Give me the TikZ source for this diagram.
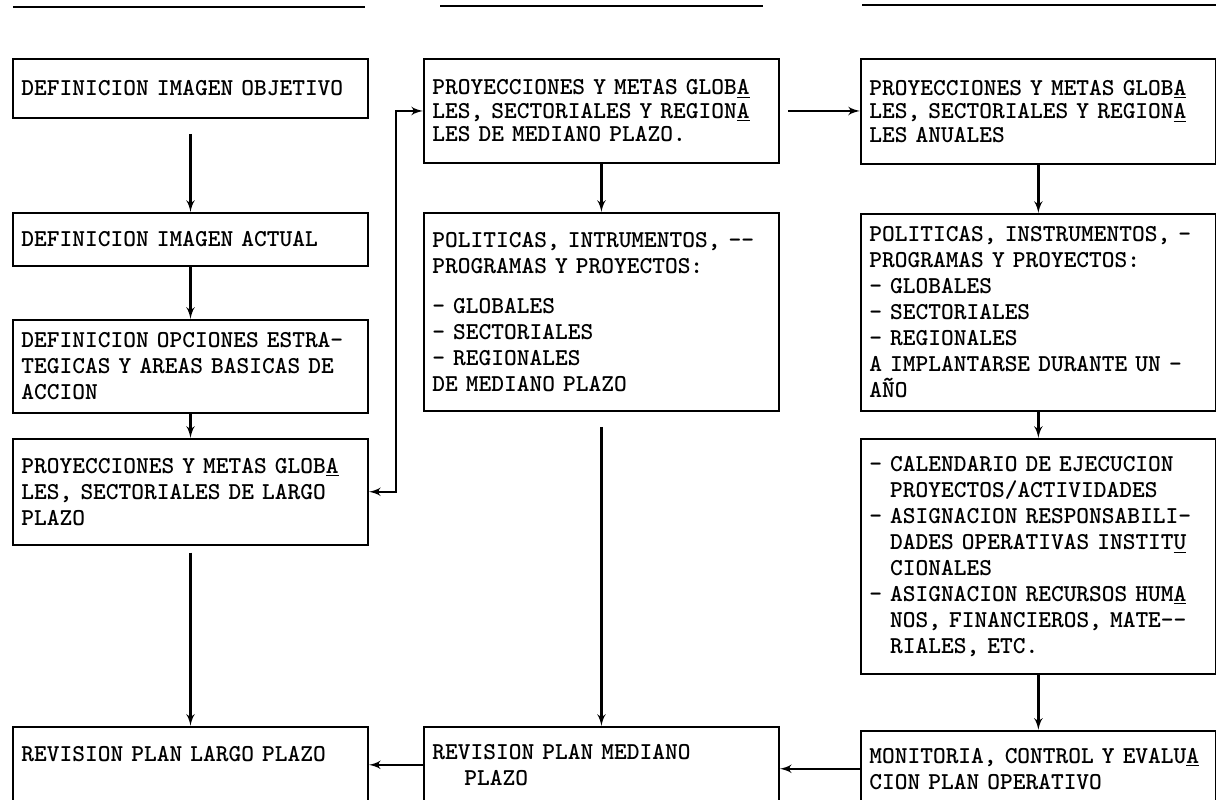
\documentclass[tikz,border=0pt]{standalone}
\usetikzlibrary{arrows, positioning}

\newcommand{\contind}{\phantom{-\ }}

\begin{document}
\begin{tikzpicture}[
    block/.style={rectangle, draw, line width=1.1pt, text width=6.76cm, align=left, inner xsep=0.17cm, inner ysep=4pt, font=\ttfamily\bfseries\fontsize{13.8}{14.8}\selectfont},
    tight/.style={font=\ttfamily\bfseries\fontsize{13.8}{13.4}\selectfont},
    line/.style={draw, -latex', line width=1.3pt}
]
\useasboundingbox (0,0) rectangle (24.32,-16);

% rules at the top of the page
\draw[line width=1.2pt] (0.26,-0.14) -- (7.3,-0.14);
\draw[line width=1.2pt] (8.8,-0.12) -- (15.26,-0.12);
\draw[line width=1.2pt] (17.24,-0.1) -- (24.32,-0.1);

% long term
\node [block, minimum height=1.18cm, anchor=north] (obj) at (3.81,-1.16) {DEFINICION IMAGEN OBJETIVO};
\node [block, minimum height=1.06cm, below=1.86cm of obj] (act) {DEFINICION IMAGEN ACTUAL};
\node [block, minimum height=1.86cm, below=1.04cm of act] (opc) {DEFINICION OPCIONES ESTRA-\\TEGICAS Y AREAS BASICAS DE\\ACCION};
\node [block, minimum height=2.12cm, below=0.48cm of opc] (lpl) {PROYECCIONES Y METAS GLOB\underline{A}\\LES, SECTORIALES DE LARGO\\PLAZO};
\node [block, minimum height=1.6cm, below=3.6cm of lpl] (rlp) {REVISION PLAN LARGO PLAZO\\~};

% medium term
\node [block, tight, minimum height=2.08cm, right=1.08cm of obj.north east, anchor=north west] (mpl) {PROYECCIONES Y METAS GLOB\underline{A}\\LES, SECTORIALES Y REGION\underline{A}\\LES DE MEDIANO PLAZO.};
\node [block, minimum height=3.96cm, below=0.96cm of mpl] (mpol) {POLITICAS, INTRUMENTOS, -{}-\\PROGRAMAS Y PROYECTOS:\\[8pt]- GLOBALES\\- SECTORIALES\\- REGIONALES\\DE MEDIANO PLAZO};
\node [block, minimum height=1.52cm, below=6.28cm of mpol] (rmp) {REVISION PLAN MEDIANO\\\hspace*{0.64cm}PLAZO};

% annual
\node [block, tight, minimum height=2.1cm, right=1.6cm of mpl.north east, anchor=north west] (apl) {PROYECCIONES Y METAS GLOB\underline{A}\\LES, SECTORIALES Y REGION\underline{A}\\LES ANUALES};
\node [block, minimum height=3.94cm, below=0.96cm of apl] (apol) {POLITICAS, INSTRUMENTOS, -\\PROGRAMAS Y PROYECTOS:\\- GLOBALES\\- SECTORIALES\\- REGIONALES\\A IMPLANTARSE DURANTE UN -\\AÑO};
\node [block, minimum height=4.7cm, below=0.52cm of apol] (cal) {- CALENDARIO DE EJECUCION\\\contind PROYECTOS/ACTIVIDADES\\- ASIGNACION RESPONSABILI-\\\contind DADES OPERATIVAS INSTIT\underline{U}\\\contind CIONALES\\- ASIGNACION RECURSOS HUM\underline{A}\\\contind NOS, FINANCIEROS, MATE-{}-\\\contind RIALES, ETC.};
\node [block, minimum height=1.52cm, below=1.1cm of cal] (mon) {MONITORIA, CONTROL Y EVALU\underline{A}\\CION PLAN OPERATIVO};

\path [line, shorten <=0.3cm] (obj) -- (act);
\path [line] (act) -- (opc);
\path [line] (opc) -- (lpl);
\path [line, shorten <=0.14cm] (lpl) -- (rlp);
\path [line, latex'-latex'] (lpl.east) -- ++(0.54,0) |- (mpl.west);

\path [line] (mpl) -- (mpol);
\path [line, shorten <=0.3cm] (mpol) -- (rmp);
\path [line, shorten <=0.16cm] (mpl.east) -- (mpl.east -| apl.west);

\path [line] (apl) -- (apol);
\path [line] (apol) -- (cal);
\path [line] (cal) -- (mon);
\path [line] (mon.west) -- (mon.west -| rmp.east);
\path [line] (rmp.west) -- (rmp.west -| rlp.east);

\end{tikzpicture}
\end{document}
